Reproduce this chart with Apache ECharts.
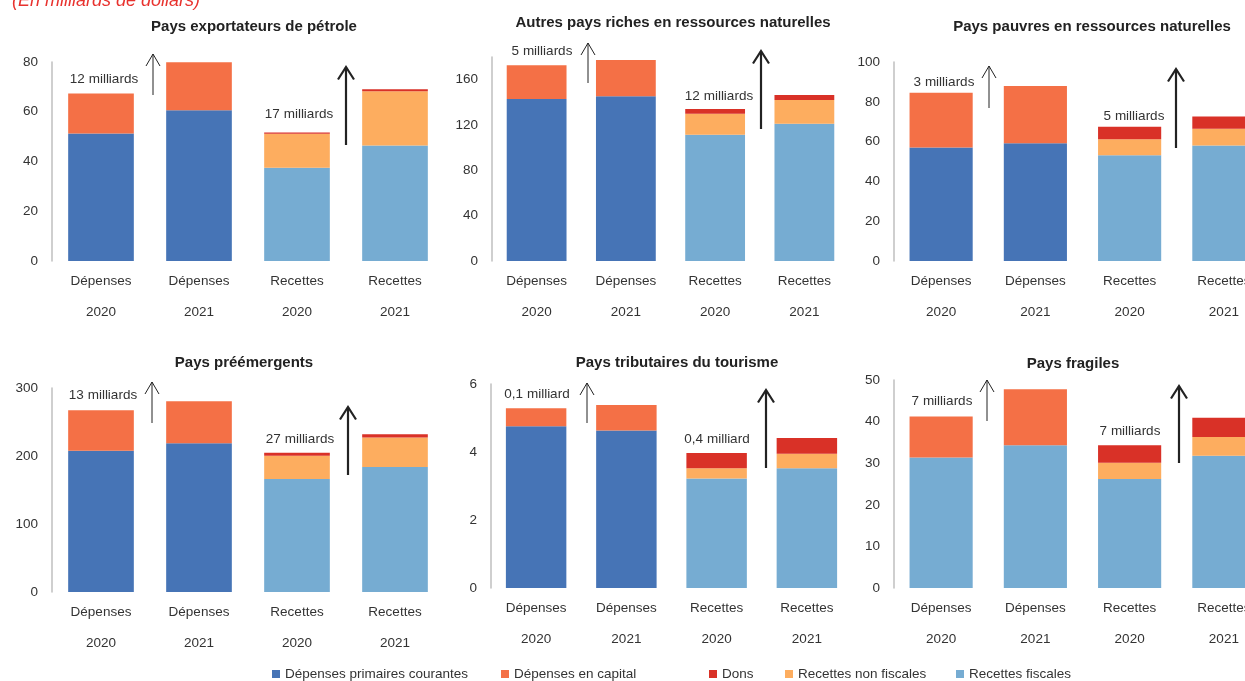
<!DOCTYPE html>
<html>
<head>
<meta charset="utf-8">
<title>Dépenses et recettes</title>
<script src="https://cdn.jsdelivr.net/npm/echarts@6.0.0/dist/echarts.min.js"></script>
<style>
  html, body { margin: 0; padding: 0; background: #fff; overflow: hidden; }
  /* plus large que la fenêtre : la dernière colonne est coupée comme dans l'original */
  #myChart { width: 1300px; height: 681px; }
</style>
</head>
<body>
<div id="myChart"></div>
<script>
// catégories, titres, séries
const categories = ['Dépenses\n2020', 'Dépenses\n2021', 'Recettes\n2020', 'Recettes\n2021'];
const panelTitles = [
  'Pays exportateurs de pétrole',
  'Autres pays riches en ressources naturelles',
  'Pays pauvres en ressources naturelles',
  'Pays préémergents',
  'Pays tributaires du tourisme',
  'Pays fragiles'
];
const seriesNames = ['Dépenses primaires courantes', 'Dépenses en capital', 'Dons', 'Recettes non fiscales', 'Recettes fiscales'];

// valeurs en milliards de dollars, une ligne par panneau
const depPrimaires = [
  [51.3, 60.6, 0, 0],
  [143.0, 145.3, 0, 0],
  [57.0, 59.2, 0, 0],
  [207.6, 218.9, 0, 0],
  [4.76, 4.63, 0, 0],
  [0, 0, 0, 0]          // pays fragiles : dépenses en bleu clair dans l'original
];
const depCapital = [
  [16.0, 19.3, 0, 0],
  [29.7, 32.1, 0, 0],
  [27.5, 28.7, 0, 0],
  [59.7, 61.6, 0, 0],
  [0.53, 0.75, 0, 0],
  [9.8, 13.5, 0, 0]
];
const recFiscales = [
  [0, 0, 37.5, 46.4],
  [0, 0, 111.4, 121.1],
  [0, 0, 53.1, 58.0],
  [0, 0, 166.1, 183.7],
  [0, 0, 3.22, 3.52],
  [31.4, 34.3, 26.2, 31.8]
];
const recNonFiscales = [
  [0, 0, 13.7, 21.8],
  [0, 0, 18.6, 21.0],
  [0, 0, 8.1, 8.4],
  [0, 0, 34.2, 43.6],
  [0, 0, 0.30, 0.43],
  [0, 0, 3.9, 4.5]
];
const dons = [
  [0, 0, 0.5, 0.8],
  [0, 0, 4.1, 4.4],
  [0, 0, 6.2, 6.2],
  [0, 0, 4.4, 4.8],
  [0, 0, 0.45, 0.46],
  [0, 0, 4.2, 4.6]
];
const axisMax = [80, 180, 100, 300, 6, 50];
const axisStep = [20, 40, 20, 100, 2, 10];
const deltaDep = ['12 milliards', '5 milliards', '3 milliards', '13 milliards', '0,1 milliard', '7 milliards'];
const deltaRec = ['17 milliards', '12 milliards', '5 milliards', '27 milliards', '0,4 milliard', '7 milliards'];

// mise en page
const FONT = "'Liberation Sans', Arial, sans-serif";
const FS = 13.5;
const colors = {
  'Dépenses primaires courantes': '#4674b6',
  'Dépenses en capital': '#f47046',
  'Dons': '#d93127',
  'Recettes non fiscales': '#fdad5f',
  'Recettes fiscales': '#76acd2'
};
const grids = [
  { left: 52, top: 62, width: 392, height: 199 },
  { left: 492, top: 57, width: 357, height: 204 },
  { left: 894, top: 62, width: 377, height: 199 },
  { left: 52, top: 388, width: 392, height: 204 },
  { left: 491, top: 384, width: 361, height: 204 },
  { left: 894, top: 380, width: 377, height: 208 }
];
const titlePos = [[254, 27], [673, 23], [1092, 27], [244, 363], [677, 363], [1073, 364]];
const depTextPos = [[104, 79], [542, 51], [944, 82], [103, 395], [537, 394], [942, 401]];
const recTextPos = [[299, 114], [719, 96], [1134, 116], [300, 439], [717, 439], [1130, 431]];
// flèches : [x, bas, haut]
const thinArrows = [[153, 95, 54], [588, 83, 43], [989, 108, 66], [152, 423, 382], [587, 423, 383], [987, 421, 380]];
const thickArrows = [[346, 145, 67], [761, 129, 51], [1176, 148, 69], [348, 475, 407], [766, 468, 390], [1179, 463, 386]];
const legendLeft = [272, 501, 709, 785, 956];

let myChart = echarts.init(document.getElementById('myChart'));

let xAxes = [], yAxes = [], series = [], graphics = [];
grids.forEach(function (g, i) {
  xAxes.push({
    type: 'category', gridIndex: i, data: categories,
    axisLine: { show: false }, axisTick: { show: false },
    axisLabel: { interval: 0, color: '#333', fontSize: FS, fontFamily: FONT, lineHeight: 31, margin: 5 }
  });
  yAxes.push({
    type: 'value', gridIndex: i, min: 0, max: axisMax[i], interval: axisStep[i],
    axisLine: { show: true, lineStyle: { color: '#bfbfbf', width: 1.5 } },
    axisTick: { show: false }, splitLine: { show: false },
    axisLabel: { color: '#333', fontSize: FS, fontFamily: FONT, margin: 14, showMaxLabel: axisMax[i] % axisStep[i] === 0 }
  });
  const rows = [
    ['Dépenses primaires courantes', depPrimaires[i]],
    ['Recettes fiscales', recFiscales[i]],
    ['Dépenses en capital', depCapital[i]],
    ['Recettes non fiscales', recNonFiscales[i]],
    ['Dons', dons[i]]
  ];
  rows.forEach(function (r) {
    series.push({
      name: r[0], type: 'bar', stack: 'p' + i,
      xAxisIndex: i, yAxisIndex: i,
      barCategoryGap: '33%',
      itemStyle: { color: colors[r[0]] },
      data: r[1]
    });
  });

  graphics.push({
    type: 'text', x: titlePos[i][0], y: titlePos[i][1],
    style: { text: panelTitles[i], fill: '#222', font: 'bold 15px ' + FONT, textAlign: 'center', textVerticalAlign: 'middle' }
  });
  graphics.push({
    type: 'text', x: depTextPos[i][0], y: depTextPos[i][1],
    style: { text: deltaDep[i], fill: '#333', font: FS + 'px ' + FONT, textAlign: 'center', textVerticalAlign: 'middle' }
  });
  graphics.push({
    type: 'text', x: recTextPos[i][0], y: recTextPos[i][1],
    style: { text: deltaRec[i], fill: '#333', font: FS + 'px ' + FONT, textAlign: 'center', textVerticalAlign: 'middle' }
  });
  [[thinArrows[i], 1, 7, 12], [thickArrows[i], 2.2, 8, 12.5]].forEach(function (a) {
    const x = a[0][0], y1 = a[0][1], y2 = a[0][2];
    graphics.push({
      type: 'polyline', shape: { points: [[x, y1], [x, y2]] },
      style: { stroke: '#222', lineWidth: a[1], fill: null }
    });
    graphics.push({
      type: 'polyline', shape: { points: [[x - a[2], y2 + a[3]], [x, y2], [x + a[2], y2 + a[3]]] },
      style: { stroke: '#222', lineWidth: a[1], fill: null }
    });
  });
});

graphics.push({
  type: 'text', x: 12, y: 1,
  style: { text: '(En milliards de dollars)', fill: '#e8322e', font: 'italic 18px ' + FONT, textVerticalAlign: 'middle' }
});

let legends = seriesNames.map(function (n, k) {
  return {
    data: [n], left: legendLeft[k], top: 667,
    icon: 'rect', itemWidth: 8, itemHeight: 8, itemGap: 0, selectedMode: false, padding: 0,
    textStyle: { color: '#333', fontSize: FS, fontFamily: FONT }
  };
});

myChart.setOption({
  animation: false,
  grid: grids,
  xAxis: xAxes,
  yAxis: yAxes,
  legend: legends,
  graphic: graphics,
  series: series
});
</script>
</body>
</html>
